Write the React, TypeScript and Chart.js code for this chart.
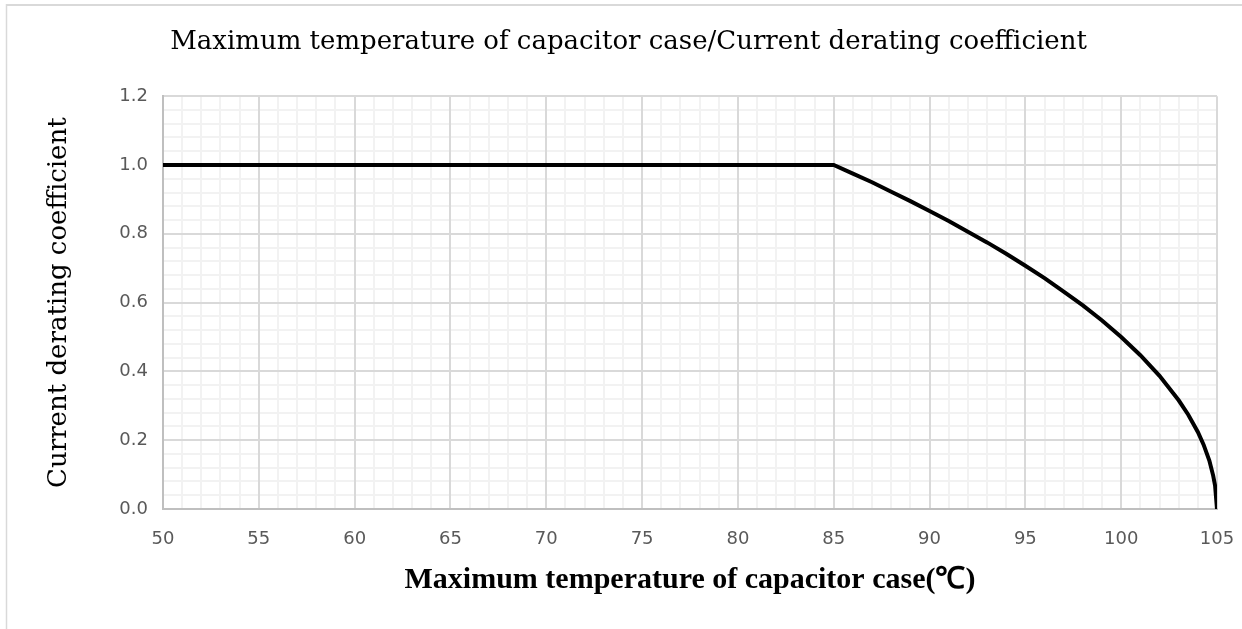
import React, { useEffect, useRef } from "react";
import { Chart, registerables } from "chart.js";

Chart.register(...registerables);

const chartTitle = "Maximum temperature of capacitor case/Current derating coefficient";
const xAxisTitle = "Maximum temperature of capacitor case(℃)";
const yAxisTitle = "Current derating coefficient";

const tempC = [50, 55, 60, 65, 70, 75, 80, 85, 86, 87, 88, 89, 90, 91, 92, 93, 94, 95, 96, 97, 98, 99, 100, 101, 102, 103, 103.5, 104, 104.3, 104.6, 104.8, 104.9, 105];
const coef = [1, 1, 1, 1, 1, 1, 1, 1, 0.975, 0.95, 0.922, 0.895, 0.866, 0.837, 0.806, 0.775, 0.742, 0.707, 0.671, 0.632, 0.592, 0.548, 0.5, 0.447, 0.387, 0.316, 0.274, 0.224, 0.187, 0.141, 0.097, 0.068, 0];

const xMin = 50;
const xMax = 105;
const xMajor = 5;
const xMinor = 1;
const yMin = 0;
const yMax = 1.2;
const yMajor = 0.2;
const yMinor = 0.04;

const frame = {
  id: "frame",
  beforeDraw(chart: any) {
    const ctx = chart.ctx;
    ctx.save();
    ctx.fillStyle = "#ffffff";
    ctx.fillRect(0, 0, chart.width, chart.height);
    ctx.strokeStyle = "#d9d9d9";
    ctx.lineWidth = 2;
    ctx.beginPath();
    ctx.moveTo(6, 5);
    ctx.lineTo(chart.width, 5);
    ctx.stroke();
    ctx.lineWidth = 1.5;
    ctx.beginPath();
    ctx.moveTo(6.5, 4);
    ctx.lineTo(6.5, chart.height);
    ctx.stroke();
    ctx.restore();
  },
};

const isMajor = (v: number, step: number) => Math.abs(v / step - Math.round(v / step)) < 1e-6;

export default function App() {
  const ref = useRef<HTMLCanvasElement>(null);
  useEffect(() => {
    if (!ref.current) return;
    const points = tempC.map((t, i) => ({ x: t, y: coef[i] }));
    const tickFont = { family: "'DejaVu Sans'", size: 18 };
    const chart = new Chart(ref.current, {
      type: "scatter",
      data: {
        datasets: [
          {
            data: points,
            showLine: true,
            borderColor: "#000000",
            borderWidth: 4,
            pointRadius: 0,
            tension: 0,
            xAxisID: "x",
            yAxisID: "y",
          } as any,
        ],
      },
      options: {
        animation: false,
        responsive: true,
        maintainAspectRatio: false,
        layout: { padding: { left: 40, right: 25, top: 0, bottom: 0 } },
        plugins: {
          legend: { display: false },
          tooltip: { enabled: false },
          title: {
            display: true,
            text: chartTitle,
            color: "#000000",
            font: { family: "'DejaVu Serif'", size: 26, weight: "normal" },
            padding: { top: 27, bottom: 38 },
          },
        },
        scales: {
          x2: {
            type: "linear",
            position: "bottom",
            min: xMin,
            max: xMax,
            z: -1,
            ticks: { display: false, stepSize: xMinor, maxTicksLimit: 200 },
            grid: {
              drawTicks: false,
              lineWidth: 2,
              color: (c: any) => (isMajor(c.tick.value, xMajor) ? "rgba(0,0,0,0)" : "#f2f2f2"),
            },
            border: { display: false },
            afterFit: (s: any) => { s.height = 0; s.paddingLeft = 0; s.paddingRight = 0; },
          },
          y2: {
            type: "linear",
            position: "left",
            min: yMin,
            max: yMax,
            z: -1,
            ticks: { display: false, stepSize: yMinor, maxTicksLimit: 200 },
            grid: {
              drawTicks: false,
              lineWidth: 2,
              color: (c: any) => (isMajor(c.tick.value, yMajor) ? "rgba(0,0,0,0)" : "#f2f2f2"),
            },
            border: { display: false },
            afterFit: (s: any) => { s.width = 0; s.paddingTop = 0; s.paddingBottom = 0; },
          },
          x: {
            type: "linear",
            position: "bottom",
            min: xMin,
            max: xMax,
            ticks: {
              stepSize: xMajor,
              autoSkip: false,
              maxRotation: 0,
              color: "#595959",
              font: tickFont,
              padding: 20,
            },
            grid: { drawTicks: false, lineWidth: 2, color: "#d9d9d9" },
            border: { display: true, color: "#bfbfbf", width: 2 },
            title: {
              display: true,
              text: xAxisTitle,
              color: "#000000",
              font: { family: "'Liberation Serif'", size: 30, weight: "bold" },
              padding: { top: 0, bottom: 31 },
            },
            afterFit: (s: any) => { s.height = 120; s.paddingLeft = 0; s.paddingRight = 0; },
          },
          y: {
            type: "linear",
            position: "left",
            min: yMin,
            max: yMax,
            ticks: {
              stepSize: yMajor,
              autoSkip: false,
              color: "#595959",
              font: tickFont,
              padding: 15,
              callback: (v: any) => Number(v).toFixed(1),
            },
            grid: { drawTicks: false, lineWidth: 2, color: "#d9d9d9" },
            border: { display: true, color: "#bfbfbf", width: 2 },
            title: {
              display: true,
              text: yAxisTitle,
              color: "#000000",
              font: { family: "'DejaVu Serif'", size: 26, weight: "normal" },
              padding: { top: 4, bottom: 0 },
            },
            afterFit: (s: any) => { s.width = 123; s.paddingTop = 0; s.paddingBottom = 0; },
          },
        },
      } as any,
      plugins: [frame],
    });
    return () => chart.destroy();
  }, []);
  return (
    <div style={{ position: "absolute", left: 0, top: 0, width: 1242, height: 629, background: "#fff" }}>
      <canvas ref={ref} />
    </div>
  );
}
